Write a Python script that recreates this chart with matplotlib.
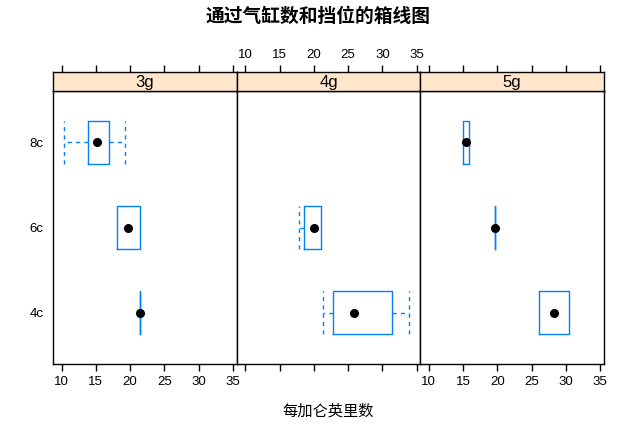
import numpy as np
import matplotlib.pyplot as plt

plt.rcParams['font.family'] = ['Liberation Sans', 'Noto Sans CJK SC', 'DejaVu Sans']

# five-number summaries, per gear panel, cyl order 4c, 6c, 8c
gears = ['3g', '4g', '5g']
cyls = ['4c', '6c', '8c']
whis_lo = [[21.5, 18.1, 10.4], [21.4, 17.8, None], [26.0, 19.7, 15.0]]
box_lo = [[21.5, 18.1, 13.8], [22.8, 18.5, None], [26.0, 19.7, 15.0]]
medians = [[21.5, 19.75, 15.2], [25.85, 20.1, None], [28.2, 19.7, 15.4]]
box_hi = [[21.5, 21.4, 16.85], [31.4, 21.0, None], [30.4, 19.7, 15.8]]
whis_hi = [[21.5, 21.4, 19.2], [33.9, 21.0, None], [30.4, 19.7, 15.8]]
xticks = [10, 15, 20, 25, 30, 35]

W, H = 636, 443
blue = '#0080ff'
xlim = (8.755, 35.545)

fig = plt.figure(figsize=(W / 100, H / 100), dpi=100)

lefts = [53, 236.7, 420.3]
pw = 183.7
for i, g in enumerate(gears):
    ax = fig.add_axes([lefts[i] / W, (H - 364) / H, pw / W, 273 / H])
    st = fig.add_axes([lefts[i] / W, (H - 91) / H, pw / W, 19 / H])

    stats = []
    pos = []
    for j, c in enumerate(cyls):
        if medians[i][j] is None:
            continue
        stats.append(dict(whislo=whis_lo[i][j], q1=box_lo[i][j], med=medians[i][j],
                          q3=box_hi[i][j], whishi=whis_hi[i][j], fliers=[]))
        pos.append(j + 1)
    parts = ax.bxp(stats, positions=pos, widths=0.5, capwidths=0.5,
                   orientation='horizontal', showfliers=False,
                   boxprops=dict(color=blue, lw=1),
                   whiskerprops=dict(color=blue, lw=1, linestyle=(0, (3, 3))),
                   capprops=dict(color=blue, lw=1, linestyle=(0, (3, 3))),
                   medianprops=dict(lw=0))
    # hide zero-length whiskers so the box edge stays solid
    for k, s in enumerate(stats):
        if s['whislo'] == s['q1']:
            parts['whiskers'][2 * k].set_visible(False)
            parts['caps'][2 * k].set_visible(False)
        if s['whishi'] == s['q3']:
            parts['whiskers'][2 * k + 1].set_visible(False)
            parts['caps'][2 * k + 1].set_visible(False)
    meds = [s['med'] for s in stats]
    ax.plot(meds, pos, 'o', color='black', ms=5.5, zorder=5)

    ax.set_xlim(xlim)
    ax.set_ylim(0.4, 3.6)
    ax.set_xticks(xticks)
    ax.set_yticks([1, 2, 3])
    ax.tick_params(axis='x', direction='out', length=5, width=1, labelsize=9.5, pad=3.5,
                   labelbottom=(i != 1))
    if i == 0:
        ax.set_yticklabels(cyls)
        ax.tick_params(axis='y', length=0, labelsize=9.5, pad=7)
    else:
        ax.tick_params(axis='y', length=0, labelleft=False)
    for sp in ax.spines.values():
        sp.set_linewidth(1)

    st.set_facecolor('#ffe5cc')
    st.set_xlim(xlim)
    st.set_ylim(0, 1)
    st.set_xticks(xticks)
    st.set_yticks([])
    st.tick_params(axis='x', direction='out', length=5, width=1, labelsize=9.5, pad=3,
                   top=True, bottom=False, labelbottom=False, labeltop=(i == 1))
    st.text(0.5, 0.45, g, transform=st.transAxes, ha='center', va='center', fontsize=12)
    for sp in st.spines.values():
        sp.set_linewidth(1)

fig.text(328.5 / W, 1 - 411 / H, '每加仑英里数', ha='center', va='center', fontsize=11)
fig.text(318 / W, 1 - 17 / H, '通过气缸数和挡位的箱线图', ha='center', va='center',
         fontsize=13.5, fontweight='bold')

fig.savefig('out.png', dpi=100)
